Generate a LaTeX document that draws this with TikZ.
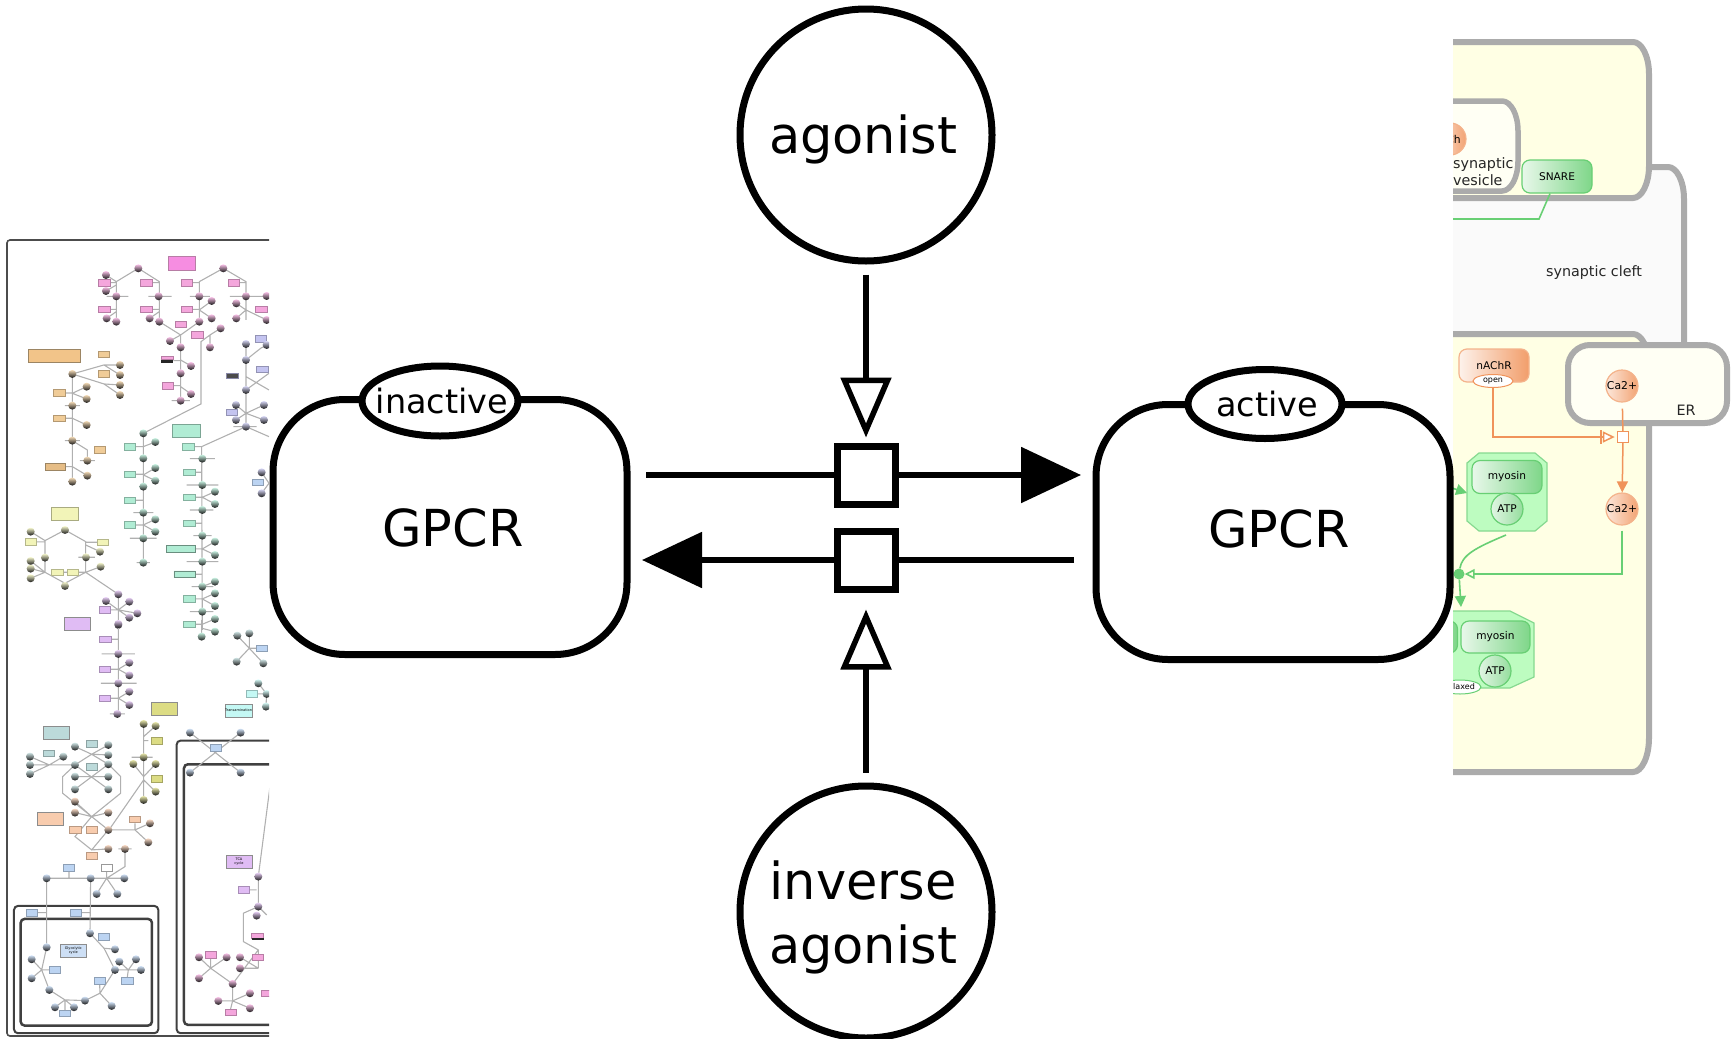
\documentclass[tikz,border=0pt]{standalone}
\usepackage{fontspec}
\setmainfont{DejaVu Sans}
\usetikzlibrary{arrows.meta,shapes.geometric}
\definecolor{mappink}{HTML}{F4A6DC}
\definecolor{maptan}{HTML}{F0CC98}
\definecolor{mapviolet}{HTML}{C4C4F0}
\definecolor{mapgreen}{HTML}{B0ECD4}
\definecolor{mapyellow}{HTML}{F2F4B8}
\definecolor{mappurple}{HTML}{E0BCF4}
\definecolor{mapolive}{HTML}{DCDC84}
\definecolor{mapcyan}{HTML}{C4F8F4}
\definecolor{mapteal}{HTML}{BCDADA}
\definecolor{mapsalmon}{HTML}{F8CCAE}
\definecolor{mapblue}{HTML}{BCD4F2}
\definecolor{mapline}{HTML}{B0B0B0}
\definecolor{compgray}{HTML}{ABABAB}
\definecolor{cellyellow}{HTML}{FFFFE4}
\definecolor{cleftgray}{HTML}{FAFAFA}
\definecolor{sbgnorange}{HTML}{F0935A}
\definecolor{sbgngreen}{HTML}{68CF74}
\definecolor{complexgreen}{HTML}{BDFCC0}
\tikzset{
  bigtext/.style={font=\fontsize{51}{64}\selectfont,align=center},
  statetext/.style={font=\fontsize{33.5}{40}\selectfont},
  ligand/.style={draw,circle,line width=7pt,minimum size=252pt,inner sep=0pt,fill=white},
  gpcrbox/.style={draw,rectangle,line width=7pt,rounded corners=72pt,minimum width=354pt,minimum height=255pt,fill=white},
  statevar/.style={draw,ellipse,line width=7pt,fill=white,inner sep=0pt},
  process/.style={draw,rectangle,line width=7pt,minimum size=58pt,fill=white},
  conv/.style={line width=5.5pt},
  orangeball/.style={draw=sbgnorange!70,circle,line width=1.2pt,minimum size=32pt,inner sep=0pt,left color=sbgnorange!22!white,right color=sbgnorange!85,font=\fontsize{10.8}{12}\selectfont},
  greenball/.style={draw=sbgngreen,circle,line width=1.2pt,minimum size=32pt,inner sep=0pt,left color=white!80!sbgngreen,right color=sbgngreen!70,font=\fontsize{10.6}{12}\selectfont},
  greenbox/.style={draw=sbgngreen,rectangle,line width=1.2pt,rounded corners=8pt,minimum width=70pt,minimum height=33pt,inner sep=0pt,left color=white!85!sbgngreen,right color=sbgngreen!85,font=\fontsize{10.6}{12}\selectfont},
  orangebox/.style={draw=sbgnorange!70,rectangle,line width=1.2pt,rounded corners=8pt,minimum width=70pt,minimum height=33pt,inner sep=0pt,left color=sbgnorange!12!white,right color=sbgnorange!90,font=\fontsize{10.6}{12}\selectfont},
  tinystate/.style={draw,ellipse,line width=1pt,fill=white,inner sep=0pt,font=\fontsize{8}{9}\selectfont},
  compwall/.style={draw=compgray,line width=6pt},
  celltext/.style={font=\fontsize{14.3}{17}\selectfont,text=black!85},
  maplabel/.style={draw=black!45,line width=.5pt,minimum width=26pt,minimum height=13pt,inner sep=0pt,font=\fontsize{3.5}{4}\selectfont,align=center},
  membrane/.style={draw=black!75,line width=2pt,rounded corners=4pt}
}
\newcommand{\mapdots}[2]{\foreach \x/\y in {#2} \path[top color=#1!70,bottom color=black!90] (\x,\y) circle (4pt);}
\newcommand{\mapboxes}[2]{\foreach \x/\y in {#2} \path[draw=#1!75!black,fill=#1,line width=.4pt] (\x-17,\y-10) rectangle (\x+17,\y+10);}
\begin{document}
\begin{tikzpicture}[x=1pt,y=-1pt]
\useasboundingbox (0,0) rectangle (1733,1039);

% metabolic map, left
\begin{scope}
\clip (0,0) rectangle (269,1039);
\path[draw=black!70,line width=1.6pt,rounded corners=3pt] (7,240) rectangle (400,1036);
% upper part of the map
\begin{scope}[x=0.3333pt,y=-0.3333pt,shift={(0,690)}]
\path[draw=mapline,line width=1.1pt]
 (349,275)--(349,155)--(415,115)--(478,155)--(478,275)--(542,315)--(598,275)--(598,155)--(670,115)--(738,155)--(738,270)
 (320,199)--(385,199) (445,199)--(515,199) (570,199)--(630,199) (690,199)--(800,199)
 (318,135)--(349,155) (318,183)--(349,165) (320,265)--(349,245) (449,265)--(478,245)
 (635,213)--(598,240) (635,265)--(598,240) (709,220)--(738,240) (709,265)--(738,240) (800,270)--(738,240)
 (330,158)--(349,158) (330,238)--(349,238) (456,158)--(478,158) (456,238)--(478,238)
 (578,158)--(598,158) (578,238)--(598,238) (719,158)--(738,158) (542,315)--(542,512)
 (510,333)--(542,315) (573,408)--(542,390) (573,492)--(542,470) (515,512)--(570,512)
 (662,295)--(630,315)--(630,352) (630,315)--(603,335)--(603,522)--(430,610) (520,392)--(542,392) (520,467)--(542,467)
 (217,432)--(217,755) (217,432)--(312,405)--(360,405) (312,405)--(360,435) (217,432)--(312,462)--(360,465) (312,462)--(360,495)
 (217,490)--(260,470) (217,490)--(260,507) (217,565)--(260,585) (217,632)--(262,660)--(262,692) (217,710)--(262,737)
 (195,489)--(217,489) (195,565)--(217,565) (195,527)--(240,527) (195,632)--(240,632) (240,692)--(285,692) (195,710)--(217,710)
 (738,342)--(738,590) (738,390)--(782,355)--(800,345) (738,590)--(605,650) (738,590)--(807,620) (738,480)--(807,430) (738,440)--(807,480)
 (708,525)--(738,550) (708,570)--(738,550) (738,550)--(792,525) (738,550)--(792,570) (700,590)--(770,590) (785,727)--(807,760) (785,790)--(807,760)
 (430,610)--(430,998) (466,636)--(430,650) (466,714)--(430,735) (466,752)--(430,735) (466,868)--(430,885) (466,905)--(430,885)
 (406,650)--(430,650) (406,733)--(430,733) (406,811)--(430,811) (406,885)--(430,885)
 (400,848)--(460,848) (390,925)--(470,925) (410,998)--(450,998)
 (605,650)--(607,1200) (582,650)--(607,650) (585,727)--(607,727) (585,802)--(607,802) (585,880)--(607,880) (585,957)--(607,957) (585,1033)--(607,1033) (585,1107)--(607,1107) (585,1183)--(607,1183)
 (570,686)--(645,686) (560,765)--(655,765) (645,785)--(607,802) (645,822)--(607,802) (570,840)--(640,840) (580,917)--(635,917)
 (645,935)--(607,957) (645,975)--(607,957) (560,995)--(655,995) (575,1070)--(640,1070) (645,1055)--(607,1070) (645,1090)--(607,1107) (645,1128)--(607,1107) (570,1145)--(640,1145) (645,1167)--(607,1183)
 (195,900)--(135,932)--(135,1027)--(195,1060)--(257,1027)--(257,935)--(195,900)
 (92,905)--(135,932) (110,936)--(135,936) (292,937)--(257,937) (300,965)--(257,945) (92,993)--(135,1027) (92,1016)--(135,1027) (92,1045)--(135,1027)
 (189,1027)--(201,1027) (235,1027)--(257,1027) (302,1010)--(257,1027) (235,982)--(285,982) (257,1027)--(355,1093)
 (355,1093)--(355,1200) (318,1113)--(355,1140) (388,1115)--(355,1140) (412,1150)--(355,1140) (388,1163)--(355,1140) (332,1140)--(355,1140);
\mapboxes{mappink}{313/158,313/238,439/158,439/238,561/158,561/238,702/158,543/283,592/315,503/467,784/238}
\path[draw=mappink!75!black,fill=mappink!85!magenta] (505,78) rectangle (585,120);
\path[fill=black!85] (484,388) rectangle (520,398);
\path[draw=mappink!75!black,fill=mappink] (484,380) rectangle (520,388);
\mapdots{mappink}{318/135,318/183,320/265,349/275,415/115,449/265,478/275,670/115,635/213,635/265,709/220,709/265,800/198,800/270,510/333,542/352,573/408,573/492,542/512,662/295,630/352,349/199,476/199,598/199,738/199,598/275,542/430}
\path[draw=maptan!65!black,fill=maptan!90!orange] (85,358) rectangle (240,398);
\path[draw=maptan!65!black,fill=maptan!80!brown] (135,700) rectangle (195,720);
\mapboxes{maptan}{312/373,312/431,178/489,178/565,300/659}
\mapdots{maptan}{217/432,360/405,360/435,360/465,360/495,260/470,260/507,260/585,217/527,217/632,262/692,262/737,217/755}
\mapboxes{mapviolet}{782/326,787/418,695/547}
\path[draw=mapviolet!70!black,fill=black!70] (680,430) rectangle (716,446);
\mapdots{mapviolet}{738/342,738/390,738/480,708/525,708/570,792/525,792/570,738/590,785/727,785/790,800/345}
\mapboxes{mapblue}{773/757}
\path[draw=mapgreen!70!black,fill=mapgreen] (517,582) rectangle (600,622);
\mapboxes{mapgreen}{389/650,389/733,389/811,389/885,565/650,568/727,568/802,568/880,568/1107,568/1183}
\path[draw=mapgreen!60!black,fill=mapgreen] (500,947) rectangle (585,967) (522,1023) rectangle (585,1043);
\mapdots{mapgreen}{430/610,466/636,430/685,466/714,466/752,430/770,430/848,466/868,466/905,430/925,430/998,607/686,607/765,645/785,645/822,607/840,607/917,645/935,645/975,607/995,607/1070,645/1055,645/1090,645/1128,607/1145,645/1167}
\path[draw=mapyellow!70!black,fill=mapyellow] (155,832) rectangle (235,872);
\mapboxes{mapyellow}{93/936,309/937,172/1027,218/1027}
\mapdots{mapyellow}{92/905,195/900,300/965,135/983,92/993,92/1016,92/1045,195/1068,302/1010,258/982}
\mapboxes{mappurple}{315/1140}
\mapdots{mappurple}{355/1093,318/1113,388/1115,412/1150,388/1163,355/1185}
\end{scope}
% lower part of the map
\begin{scope}[x=0.3333pt,y=-0.3333pt,shift={(0,1860)}]
\path[membrane] (42,858) rectangle (475,1240);
\path[membrane,line width=2.5pt] (62,897) rectangle (456,1217);
\path[membrane] (530,362) rectangle (1000,1240);
\path[membrane,line width=2.5pt] (552,433) rectangle (1000,1215);
\path[draw=mapline,line width=1.1pt]
 (605,0)--(605,50) (645,35)--(605,25) (712,47)--(748,85) (748,40)--(748,85) (710,125)--(748,85) (790,130)--(748,85) (748,85)--(768,85)
 (775,190)--(800,222) (772,222)--(800,222) (798,260)--(800,222)
 (355,0)--(355,282) (333,58)--(355,58) (333,148)--(355,148) (333,235)--(355,235)
 (305,102)--(405,102) (303,190)--(410,190) (388,128)--(355,148) (388,166)--(355,148) (388,215)--(355,235) (388,255)--(355,235) (330,282)--(375,282)
 (431,312)--(431,540) (467,318)--(431,350) (445,362)--(431,362) (395,412)--(458,412) (400,432)--(431,470) (467,432)--(431,470) (467,515)--(431,480) (431,480)--(327,630)
 (90,410)--(148,435) (190,410)--(148,435) (90,435)--(148,435) (90,462)--(148,435) (148,435)--(225,435)
 (225,380)--(275,403)--(225,435) (325,375)--(275,403)--(325,433) (325,405)--(275,403)
 (225,435)--(325,508) (325,433)--(225,508) (225,470)--(325,470)
 (225,435)--(188,470)--(188,520)--(275,590)--(362,520)--(362,470)--(325,433)
 (225,545)--(275,590) (225,578)--(275,590) (325,578)--(275,590) (275,590)--(225,650)--(275,690)--(325,630)--(275,590) (275,690)--(325,687)
 (325,630)--(405,630)--(450,610) (405,630)--(445,667) (405,610)--(405,630)
 (355,687)--(395,687) (375,687)--(375,740)--(320,775)--(140,775)
 (320,775)--(290,822) (320,775)--(352,822) (320,775)--(373,775) (207,755)--(207,775) (320,755)--(320,775)
 (140,775)--(140,982)--(125,1050)--(148,1110)--(195,1140)--(255,1142)--(300,1120)--(345,1050)--(312,985)--(270,940)--(272,775)
 (95,1018)--(125,1050) (95,1075)--(125,1050) (148,1050)--(125,1050) (165,1162)--(195,1140) (222,1162)--(195,1140) (195,1170)--(195,1140)
 (299,1093)--(300,1120) (335,1158)--(300,1120) (312,985)--(345,988) (345,1050)--(385,1050) (358,1025)--(385,1050) (408,1018)--(385,1050) (423,1050)--(385,1050) (382,1072)--(385,1050)
 (113,878)--(140,878) (245,878)--(272,878)
 (570,338)--(722,458) (722,338)--(570,458)
 (775,770)--(810,500) (750,810)--(770,810) (775,770)--(775,860)--(730,880)--(730,965)--(775,990)
 (775,860)--(800,885) (775,990)--(698,1092)--(632,1045) (775,990)--(775,1045) (597,1012)--(632,1045) (680,1012)--(632,1045) (597,1075)--(632,1045) (632,1015)--(632,1045)
 (720,1012)--(775,1045) (720,1045)--(775,1045) (698,1092)--(698,1143) (655,1143)--(698,1143) (750,1120)--(698,1143) (750,1165)--(698,1143) (692,1167)--(698,1143);
\node[maplabel,fill=mappurple] (purplelabel) at (233,12) {};
\mapboxes{mappurple}{316/58,315/148,315/235,732/810}
\mapdots{mappurple}{355/12,355/102,388/128,388/166,355/190,388/215,388/255,352/282,775/770,775/860,770/887}
\mapdots{mapgreen}{605/50,645/35}
\node[maplabel,fill=mapolive] (olivelabel) at (493,267) {};
\mapboxes{mapolive}{470/362,470/477}
\mapdots{mapolive}{431/312,467/318,431/412,400/432,467/432,467/515,431/540}
\node[maplabel,fill=mapcyan] (cyanlabel) at (716,272) {Transamination};
\mapboxes{mapcyan}{755/222}
\mapdots{mapcyan}{775/190,798/260,800/222}
\mapdots{mapteal}{712/47,748/40,710/125,790/130}
\mapboxes{mapblue}{785/85}
\node[maplabel,fill=mapteal] (teallabel) at (168,337) {};
\mapboxes{mapteal}{146/400,275/371,275/440}
\mapdots{mapteal}{90/410,190/410,90/435,90/462,225/380,325/375,325/405,225/435,325/433,225/470,325/470,225/508,325/508}
\node[maplabel,fill=mapsalmon] (salmonlabel) at (150,597) {};
\mapboxes{mapsalmon}{226/630,275/630,275/707,405/598}
\mapdots{mapsalmon}{225/545,225/578,325/578,325/630,325/687,375/687,450/610,445/667}
\mapboxes{mapblue}{207/744,96/878,228/878,312/950,165/1050,299/1083,382/1082,195/1180,648/383}
\path[draw=black!40,fill=white] (303,734) rectangle (337,754);
\node[maplabel,fill=mapblue!75!white] (bluelabel) at (220,992) {Glycolytic\\cycle};
\node[maplabel,fill=mappurple] (tcalabel) at (717,725) {TCA\\cycle};
\mapdots{mapblue}{140/775,272/775,373/775,290/822,352/822,270/940,140/982,345/988,358/1025,408/1018,423/1050,345/1050,95/1018,95/1075,148/1110,165/1162,222/1162,255/1142,335/1158,570/338,722/338,570/458,722/458}
\mapboxes{mappink}{632/1005,773/1012,692/1177,800/1120}
\path[draw=mappink!75!black,fill=mappink] (755,940) rectangle (791,954);
\path[fill=black!85] (755,954) rectangle (791,961);
\mapdots{mappink}{597/1012,680/1012,597/1075,720/1012,720/1045,698/1092,655/1143,750/1120,750/1165}
\end{scope}
\end{scope}

% cell map, right
\begin{scope}
\clip (1453,0) rectangle (1733,1039);
\path[compwall,fill=cleftgray] (1400,167) -- (1668,167) arc[start angle=90,end angle=0,x radius=16pt,y radius=32pt] -- (1684,420) -- (1400,420) -- cycle;
\path[compwall,fill=cellyellow] (1400,334) -- (1633,334) arc[start angle=90,end angle=0,x radius=16pt,y radius=32pt] -- (1649,738) arc[start angle=0,end angle=-90,x radius=16pt,y radius=34pt] -- (1400,772) -- cycle;
\path[compwall,fill=cellyellow] (1400,42) -- (1633,42) arc[start angle=90,end angle=0,x radius=16pt,y radius=32pt] -- (1649,166) arc[start angle=0,end angle=-90,x radius=16pt,y radius=32pt] -- (1400,198) -- cycle;
\path[compwall,fill=white!60!cellyellow,line width=5.5pt] (1400,101) -- (1502,101) arc[start angle=90,end angle=0,x radius=16pt,y radius=30pt] -- (1518,161) arc[start angle=0,end angle=-90,x radius=16pt,y radius=30pt] -- (1400,191) -- cycle;
\path[compwall,fill=white!60!cellyellow,rounded corners=22pt] (1568,345) rectangle (1727,423);

\node[orangeball] (ach) at (1450,139) {ACh};
\node[celltext,anchor=base west,inner sep=0pt] (vesicletext) at (1453,168) {synaptic};
\node[celltext,anchor=base west,inner sep=0pt] (vesicletextb) at (1453,185) {vesicle};
\node[greenbox] (snare) at (1557,176.5) {SNARE};
\node[celltext] (cleft) at (1594,273) {synaptic cleft};
\coordinate (snarebend) at (1539,219);
\coordinate (snareend) at (1440,219);
\path[draw=sbgngreen,line width=1.6pt] (snare.south) ++(-7,0) -- (snarebend) -- (snareend);

\node[celltext] (er) at (1686,410) {ER};
\node[orangeball] (caer) at (1622,386) {Ca2+};
\node[orangeball] (cacyt) at (1622,509) {Ca2+};
\node[orangebox] (nachr) at (1494,365.5) {nAChR};
\node[tinystate,draw=sbgnorange,minimum width=40pt,minimum height=13pt] (openstate) at (1493,381) {open};
\node[draw=sbgnorange,fill=white,line width=1.4pt,minimum size=11pt,inner sep=0pt] (caproc) at (1623,437) {};
\coordinate (nachrbend) at (1493,437);
\coordinate (barup) at (1601,430);
\coordinate (bardown) at (1601,444);
\path[draw=sbgnorange,line width=1.5pt,shorten >=2pt,-{Triangle[open,fill=white,length=12pt,width=11pt]}] (openstate) -- (nachrbend) -- (caproc);
\path[draw=sbgnorange,line width=1.5pt] (barup) -- (bardown);
\path[draw=sbgnorange,line width=1.5pt,shorten <=6pt] (caer) -- (caproc);
\path[draw=sbgnorange,line width=1.5pt,-{Triangle[length=11pt,width=11pt]}] (caproc) -- (cacyt);

% myosin complexes
\path[draw=sbgngreen!80!white,fill=complexgreen,line width=1.2pt] (1479,453) -- (1535,453) -- (1547,463) -- (1547,521) -- (1535,531) -- (1479,531) -- (1467,521) -- (1467,463) -- cycle;
\path[draw=sbgngreen!80!white,fill=complexgreen,line width=1.2pt] (1400,611) -- (1510,611) -- (1534,623) -- (1534,677) -- (1510,688) -- (1400,688) -- cycle;
\node[greenbox] (myosina) at (1507,477) {myosin};
\node[greenball] (atpa) at (1507,509) {ATP};
\node[greenbox,minimum width=69pt,minimum height=32pt] (myosinb) at (1495.5,637) {myosin};
\node[greenbox,minimum width=69pt,minimum height=32pt] (myosinc) at (1423,637) {};
\node[greenball] (atpb) at (1495,671) {ATP};
\node[tinystate,draw=sbgngreen,minimum width=40pt,minimum height=14pt] (relaxedstate) at (1460,687) {relaxed};

\node[circle,fill=sbgngreen,minimum size=11pt,inner sep=0pt] (assoc) at (1459,574) {};
\coordinate (catbend) at (1622,574);
\coordinate (myosinstart) at (1440,484);
\coordinate (curvestart) at (1506,535);
\coordinate (productend) at (1461,607);
\path[draw=sbgngreen,line width=1.6pt,-{Triangle[length=11pt,width=11pt]}] (myosinstart) -- (1467,493);
\path[draw=sbgngreen,line width=1.6pt] (curvestart) .. controls (1475,548) and (1462,555) .. (assoc);
\path[draw=sbgngreen,line width=1.6pt] (assoc) -- (1440,574);
\path[draw=sbgngreen,line width=1.6pt,shorten <=5pt,-{Triangle[open,fill=cellyellow,length=10pt,width=10pt]}] (cacyt) -- (catbend) -- (assoc);
\path[draw=sbgngreen,line width=1.6pt,-{Triangle[length=11pt,width=11pt]}] (assoc) -- (productend);
\end{scope}

% receptor states
\node[gpcrbox] (inactive) at (450,527) {};
\node[gpcrbox] (active) at (1273,532) {};
\node[bigtext] (inactivetext) at (453,528) {GPCR};
\node[bigtext] (activetext) at (1279,529) {GPCR};
\node[statevar,minimum width=156pt,minimum height=70pt] (inactivestate) at (440,401) {};
\node[statevar,minimum width=154pt,minimum height=69pt] (activestate) at (1265,404) {};
\node[statetext] (inactivelabel) at (442,401) {inactive};
\node[statetext] (activelabel) at (1267,404) {active};

% ligands
\node[ligand] (agonist) at (866,135) {};
\node[ligand] (inverse) at (866,912) {};
\node[bigtext] (agonisttext) at (863,139.5) {agonist};
\node[bigtext] (inversetext) at (863,917) {inverse\\agonist};

% processes
\node[process] (forward) at (866,475) {};
\node[process] (reverse) at (866,560) {};
\coordinate (forwardin) at (646,475);
\coordinate (forwardout) at (1081,475);
\coordinate (reversein) at (1074,560);
\coordinate (reverseout) at (642,560);

\path[draw,conv] (forwardin) -- (forward);
\path[draw,conv,-{Triangle[length=60pt,width=55pt]}] (forward) -- (forwardout);
\path[draw,conv] (reversein) -- (reverse);
\path[draw,conv,-{Triangle[length=60pt,width=55pt]}] (reverse) -- (reverseout);
\path[draw,conv,shorten <=10pt,shorten >=5pt,-{Triangle[open,fill=white,length=60pt,width=50pt]}] (agonist) -- (forward);
\path[draw,conv,shorten <=10pt,shorten >=17pt,-{Triangle[open,fill=white,length=60pt,width=50pt]}] (inverse) -- (reverse);
\end{tikzpicture}
\end{document}
